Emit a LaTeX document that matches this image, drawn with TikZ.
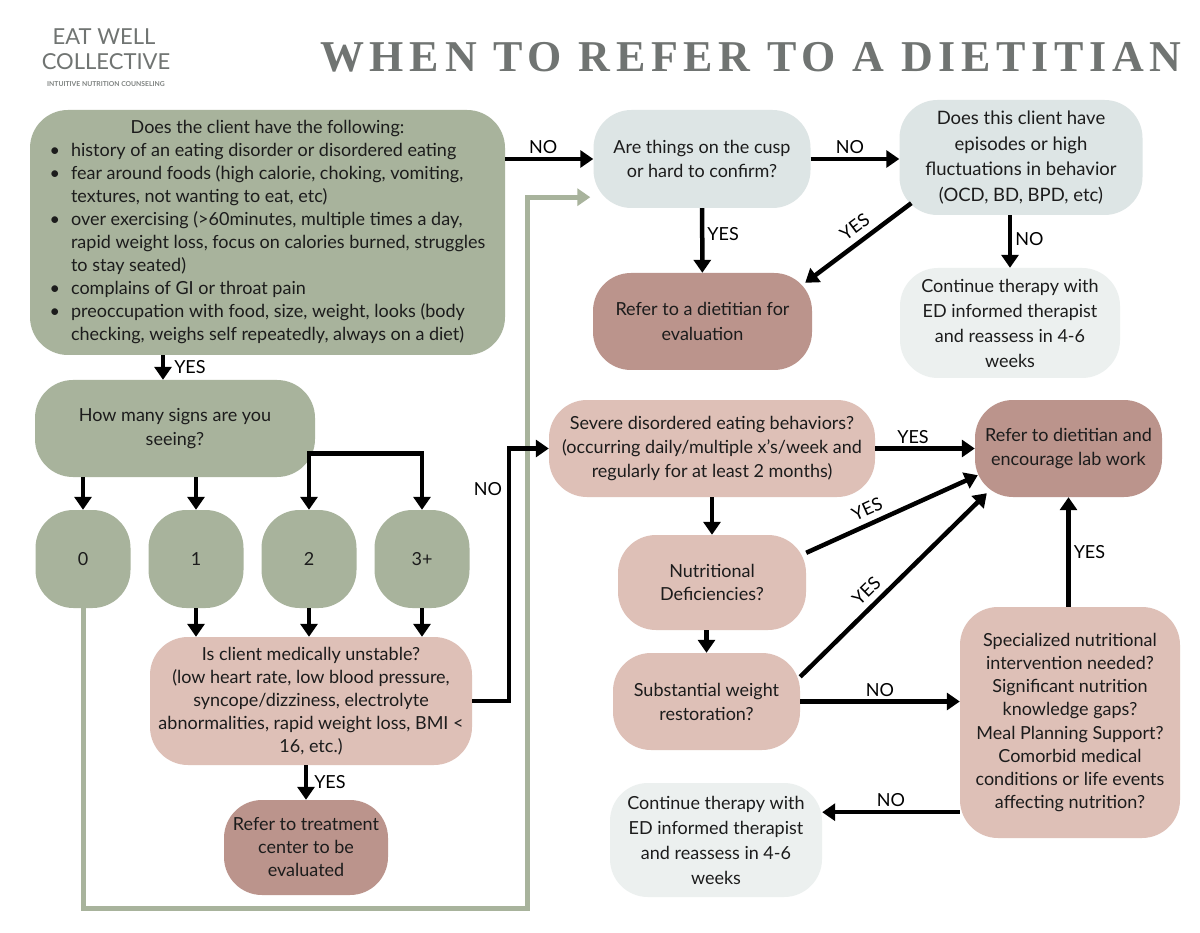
\documentclass[tikz,border=0pt]{standalone}
\usepackage{fontspec}
\setmainfont{Lato}
\newfontfamily\titlefont[LetterSpace=13]{Liberation Serif}
\usetikzlibrary{arrows.meta}
\definecolor{sage}{RGB}{168,179,156}
\definecolor{blush}{RGB}{222,192,183}
\definecolor{rose}{RGB}{187,148,140}
\definecolor{mist}{RGB}{221,229,229}
\definecolor{pale}{RGB}{236,240,239}
\definecolor{ink}{RGB}{28,28,28}
\definecolor{slate}{RGB}{112,116,114}
\tikzset{
  card/.style={rounded corners=38pt, inner sep=4pt, align=center, text=ink,
              font=\fontsize{18}{24}\selectfont},
  sagecard/.style={card, fill=sage},
  blushcard/.style={card, fill=blush},
  rosecard/.style={card, fill=rose},
  mistcard/.style={card, fill=mist},
  palecard/.style={card, fill=pale},
  flow/.style={-{Triangle[length=13pt,width=17pt]}, line width=4.5pt, black},
  flowboth/.style={{Triangle[length=13pt,width=17pt]}-{Triangle[length=13pt,width=17pt]}, line width=4.5pt, black},
  backflow/.style={-{Triangle[length=13pt,width=17pt]}, line width=5pt, sage},
  tag/.style={font=\fontsize{18}{20}\selectfont, text=black, inner sep=3pt},
}

\begin{document}
\begin{tikzpicture}[x=1pt,y=-1pt]
    \useasboundingbox (0,0) rectangle (1200,933);
    \fill[white] (0,0) rectangle (1200,933);
    \node (logoa) [font=\fontsize{22}{22}\selectfont, text=slate] at (104,37) {EAT WELL};
    \node (logob) [font=\fontsize{22}{22}\selectfont, text=slate] at (106,62) {COLLECTIVE};
    \node (logoc) [font=\fontsize{6.8}{7}\selectfont\bfseries, text=slate!90] at (106,84)
      {INTUITIVE NUTRITION COUNSELING};
    \node (title) [font=\fontsize{44}{44}\selectfont\titlefont\bfseries, text=slate] at (751,57)
      {WHEN TO REFER TO A DIETITIAN};
    \node (A) [sagecard, minimum width=475pt, minimum height=245pt,
      font=\fontsize{18}{23}\selectfont] at (267.5,232.5) {%
      \begin{tabular}{@{}c@{\hspace{11pt}}l@{}}
        \multicolumn{2}{c}{Does the client have the following:}\\
        \textbullet & history of an eating disorder or disordered eating\\
        \textbullet & fear around foods (high calorie, choking, vomiting,\\
                    & textures, not wanting to eat, etc)\\
        \textbullet & over exercising (>60minutes, multiple times a day,\\
                    & rapid weight loss, focus on calories burned, struggles\\
                    & to stay seated)\\
        \textbullet & complains of GI or throat pain\\
        \textbullet & preoccupation with food, size, weight, looks (body\\
                    & checking, weighs self repeatedly, always on a diet)
      \end{tabular}};
    \node (B) [sagecard, minimum width=280pt, minimum height=97pt] at (175,428.5)
      {How many signs are you\\seeing?};
    \node (Z) [sagecard, minimum width=95pt, minimum height=98pt] at (83,559) {0};
    \node (One) [sagecard, minimum width=95pt, minimum height=98pt] at (196,559) {1};
    \node (Two) [sagecard, minimum width=95pt, minimum height=98pt] at (309,559) {2};
    \node (Three) [sagecard, minimum width=95pt, minimum height=98pt] at (422,559) {3+};
    \node (C) [blushcard, minimum width=322pt, minimum height=128pt,
      font=\fontsize{18}{23}\selectfont] at (311,701)
      {Is client medically unstable?\\(low heart rate, low blood pressure,\\syncope/dizziness, electrolyte\\abnormalities, rapid weight loss, BMI <\\16, etc.)};
    \node (D) [rosecard, minimum width=164pt, minimum height=95pt,
      font=\fontsize{18}{23}\selectfont] at (306,847.5)
      {Refer to treatment\\center to be\\evaluated};
    \node (E) [mistcard, minimum width=217pt, minimum height=98pt] at (702,159)
      {Are things on the cusp\\or hard to confirm?};
    \node (G) [mistcard, minimum width=243pt, minimum height=115pt,
      font=\fontsize{18.5}{25.5}\selectfont] at (1021,157.5)
      {Does this client have\\episodes or high\\fluctuations in behavior\\(OCD, BD, BPD, etc)};
    \node (H) [rosecard, minimum width=219pt, minimum height=97pt,
      font=\fontsize{18}{25}\selectfont] at (702.5,321.5)
      {Refer to a dietitian for\\evaluation};
    \node (I) [palecard, minimum width=220pt, minimum height=110pt,
      font=\fontsize{18}{25}\selectfont] at (1010,323)
      {Continue therapy with\\ED informed therapist\\and reassess in 4-6\\weeks};
    \node (F) [blushcard, minimum width=326pt, minimum height=97pt] at (712,448.5)
      {Severe disordered eating behaviors?\\(occurring daily/multiple x's/week and\\regularly for at least 2 months)};
    \node (J) [rosecard, minimum width=187pt, minimum height=97pt] at (1068.5,448.5)
      {Refer to dietitian and\\encourage lab work};
    \node (K) [blushcard, minimum width=188pt, minimum height=95pt,
      font=\fontsize{18}{23}\selectfont] at (712,582.5)
      {Nutritional\\Deficiencies?};
    \node (L) [blushcard, minimum width=187pt, minimum height=97pt] at (706.5,701.5)
      {Substantial weight\\restoration?};
    \node (M) [blushcard, minimum width=220pt, minimum height=231pt,
      font=\fontsize{18}{23.1}\selectfont] at (1070,722.5)
      {Specialized nutritional\\intervention needed?\\Significant nutrition\\knowledge gaps?\\Meal Planning Support?\\Comorbid medical\\conditions or life events\\affecting nutrition?};
    \node (N) [palecard, minimum width=212pt, minimum height=114pt,
      font=\fontsize{18}{25}\selectfont] at (716,840)
      {Continue therapy with\\ED informed therapist\\and reassess in 4-6\\weeks};
    \coordinate (ab) at ([xshift=-12pt]B.north);
    \draw[flow] (ab |- A.south) -- node[tag,right,xshift=6pt]{YES} (ab);
    \draw[flow] (B.south -| Z.north) -- (Z.north);
    \draw[flow] (B.south -| One.north) -- (One.north);
    \coordinate (bb) at ([yshift=-25pt]B.east);
    \draw[flowboth] (Two.north) -- (Two.north |- bb) -- (Three.north |- bb) -- (Three.north);
    \foreach \n in {One,Two,Three}
      \draw[flow] (\n.south) -- (\n.south |- C.north);
    \draw[flow] (C.south -| D.north) -- node[tag,right,xshift=3pt]{YES} (D.north);
    \coordinate (eg) at ([xshift=-3pt,yshift=11pt]E.south west);
    \draw[backflow] (Z.south) -- ++(0,300) -- ++(444,0) |- (eg);
    \draw[flow] (C.east) -- ++(37,0) |- node[tag,left,pos=0.42,xshift=-2pt]{NO} (F.west);
    \draw[flow] (A.east |- E.west) -- node[tag,above,xshift=-6pt]{NO} (E.west);
    \draw[flow] (E.east) -- node[tag,above,xshift=-5pt]{NO} (E.east -| G.west);
    \draw[flow] (E) -- node[tag,right,pos=0.4]{YES} (H);
    \draw[flow] ([xshift=12pt,yshift=12pt]G.south west) -- node[tag,sloped,above=3pt,pos=0.45]{YES}
      ([xshift=-7pt,yshift=-10pt]H.north east);
    \draw[flow] (G.south -| I.north) -- node[tag,right,pos=0.45]{NO} (I.north);
    \draw[flow] (F) -- node[tag,above,xshift=-12pt]{YES} (J);
    \draw[flow] (F) -- (K);
    \draw[flow] (K.south -| L.north) -- (L.north);
    \draw[flow] ([yshift=-18pt]K.north east) -- node[tag,sloped,above=3pt,pos=0.39]{YES}
      ([xshift=3pt,yshift=22pt]J.south west);
    \draw[flow] ([yshift=-24pt]L.north east) -- node[tag,sloped,above=3pt,pos=0.41]{YES}
      ([xshift=12pt,yshift=4pt]J.south west);
    \draw[flow] (L.east) -- node[tag,above]{NO} (L.east -| M.west);
    \draw[flow] (M.north -| J.south) -- node[tag,right]{YES} (J.south);
    \coordinate (mn) at ([yshift=26pt]M.south west);
    \draw[flow] (mn) -- node[tag,above]{NO} (mn -| N.east);
\end{tikzpicture}
\end{document}
